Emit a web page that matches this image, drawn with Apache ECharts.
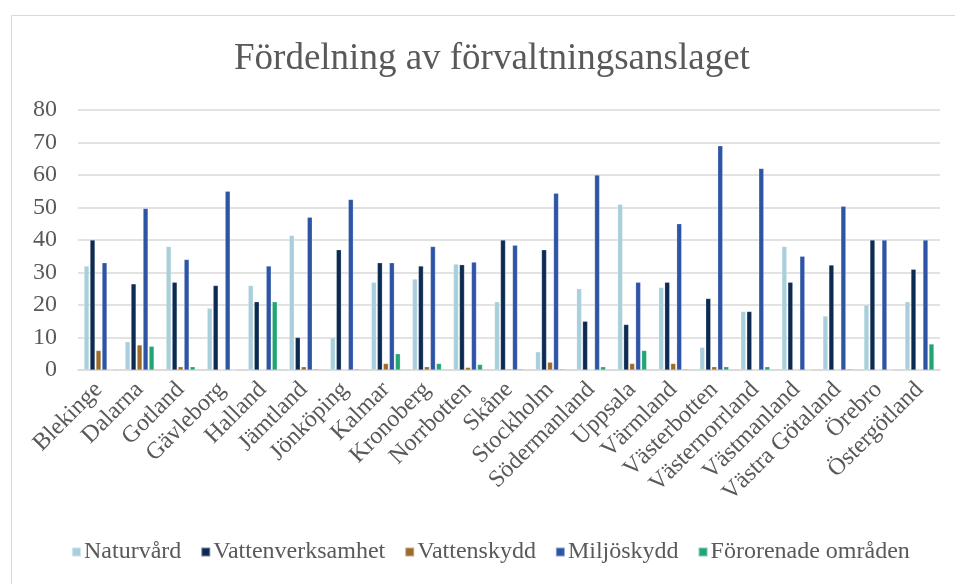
<!DOCTYPE html>
<html><head><meta charset="utf-8">
<script src="https://cdn.jsdelivr.net/npm/echarts@6/dist/echarts.min.js"></script>
<style>html,body{margin:0;padding:0;background:#fff}#c{width:955px;height:584px}</style>
</head><body><div id="c"></div>
<script>
const categories = ["Blekinge","Dalarna","Gotland","Gävleborg","Halland","Jämtland","Jönköping","Kalmar","Kronoberg","Norrbotten","Skåne","Stockholm","Södermanland","Uppsala","Värmland","Västerbotten","Västernorrland","Västmanland","Västra Götaland","Örebro","Östergötland"];
const seriesNames = ["Naturvård","Vattenverksamhet","Vattenskydd","Miljöskydd","Förorenade områden"];
const naturvard =        [32, 8.7, 38, 19, 26, 41.4, 10, 27, 28, 32.6, 21, 5.6, 25, 51, 25.4, 7, 18, 38, 16.6, 20, 21];
const vattenverksamhet = [40, 26.5, 27, 26, 21, 10, 37, 33, 32, 32.4, 40, 37, 15, 14, 27, 22, 18, 27, 32.3, 40, 31];
const vattenskydd =      [6, 7.7, 1, 0, 0, 1, 0, 2, 1, 0.8, 0.3, 2.4, 0, 2, 2, 1, 0, 0, 0, 0, 0];
const miljoskydd =       [33, 49.7, 34, 55, 32, 47, 52.5, 33, 38, 33.2, 38.4, 54.4, 60, 27, 45, 69, 62, 35, 50.4, 40, 40];
const fororenade =       [0, 7.3, 1, 0, 21, 0.3, 0.3, 5, 2, 1.7, 0.3, 0.3, 1, 6, 0.3, 1, 1, 0, 0.3, 0, 8];
const yTicks = [0, 10, 20, 30, 40, 50, 60, 70, 80];
const colors = ["#A8CFDB", "#0D2B52", "#9C6A2A", "#2E54A6", "#21A573"];
const dataSets = [naturvard, vattenverksamhet, vattenskydd, miljoskydd, fororenade];

const chart = echarts.init(document.getElementById('c'), null, {renderer: 'canvas'});
const font = 'Liberation Serif, Times New Roman, serif';
chart.setOption({
  animation: false,
  color: colors,
  title: {
    text: 'Fördelning av förvaltningsanslaget',
    left: 229, top: 36,
    textStyle: {fontFamily: font, fontSize: 37, fontWeight: 'normal', color: '#595959'}
  },
  graphic: [{
    type: 'rect', left: 9, top: 13, shape: {width: 1000, height: 700},
    style: {fill: 'none', stroke: '#D9D9D9', lineWidth: 1}
  }],
  legend: {
    data: seriesNames, bottom: 15, left: 66,
    itemWidth: 9, itemHeight: 9, itemGap: 19, icon: 'rect',
    textStyle: {fontFamily: font, fontSize: 24, color: '#595959', padding: [0, 0, 0, -2]}
  },
  grid: {left: 78, right: 15, top: 110, bottom: 214, containLabel: false},
  xAxis: {
    type: 'category', data: categories,
    axisLine: {lineStyle: {color: '#D9D9D9', width: 1.5}},
    axisTick: {show: false},
    axisLabel: {rotate: 45, interval: 0, fontFamily: font, fontSize: 24, color: '#595959', margin: 16}
  },
  yAxis: {
    type: 'value', min: 0, max: 80, interval: 10,
    axisLine: {show: false}, axisTick: {show: false},
    axisLabel: {fontFamily: font, fontSize: 24, color: '#595959', margin: 21,
      formatter: v => yTicks.includes(v) ? String(v) : ''},
    splitLine: {lineStyle: {color: '#D9D9D9', width: 1.5}}
  },
  series: seriesNames.map((n, i) => ({
    name: n, type: 'bar', data: dataSets[i],
    barWidth: 5, barGap: '20%',
    itemStyle: {color: colors[i], borderColor: 'rgba(255,255,255,0.45)', borderWidth: 0.5}
  }))
});
</script></body></html>
